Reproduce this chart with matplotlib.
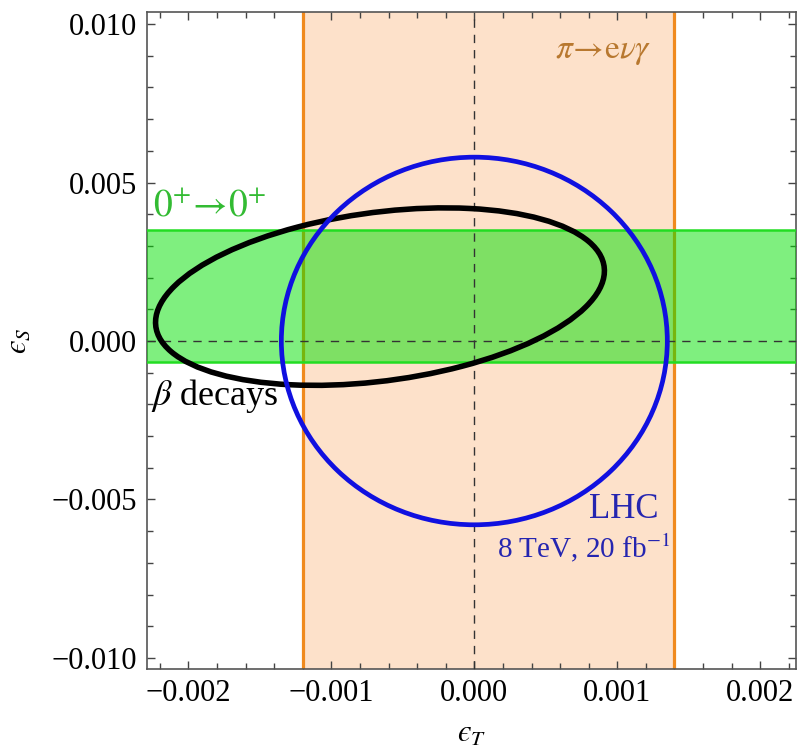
import numpy as np
import matplotlib
matplotlib.use("Agg")
import matplotlib.pyplot as plt
from matplotlib.patches import Ellipse
from matplotlib.ticker import MultipleLocator, FuncFormatter

plt.rcParams['font.family'] = ['Liberation Serif', 'DejaVu Serif']
plt.rcParams['mathtext.fontset'] = 'stix'

# --- data ---
x_limits = [-0.00229, 0.00225]
y_limits = [-0.01035, 0.01038]
pion_band = [-0.0012, 0.0014]          # pi -> e nu gamma allowed eps_T range
superallowed_band = [-0.00066, 0.0035]  # 0+ -> 0+ allowed eps_S range
lhc_center = [0.0, 0.0]
lhc_semi_axes = [0.00135, 0.0058]       # (eps_T, eps_S)
beta_center = [-0.00066, 0.0014]
beta_ax = 0.00157      # eps_T half-extent
beta_ay = 0.0028       # eps_S half-extent
beta_corr = 0.29       # correlation (cos of phase)
x_ticks = [-0.002, -0.001, 0.0, 0.001, 0.002]
y_ticks = [-0.010, -0.005, 0.0, 0.005, 0.010]

fig = plt.figure(figsize=(7.97, 7.52), dpi=100)
ax = fig.add_axes([0.1844, 0.1104, 0.8143, 0.8736])

# pion band
ax.axvspan(pion_band[0], pion_band[1], color='#FDE1CA', zorder=1, lw=0)
for xv in pion_band:
    ax.axvline(xv, color='#F08A1E', lw=2.3, zorder=2)

# superallowed band
ax.axhspan(superallowed_band[0], superallowed_band[1], color='#00E000', alpha=0.5, zorder=3, lw=0)
for yv in superallowed_band:
    ax.axhline(yv, color='#22DD22', lw=1.8, zorder=4)

# dashed axes
ax.axhline(0, color='#333333', lw=1.0, ls=(0, (6, 5)), zorder=5)
ax.axvline(0, color='#333333', lw=1.0, ls=(0, (6, 5)), zorder=5)

# LHC ellipse
ax.add_patch(Ellipse(lhc_center, 2 * lhc_semi_axes[0], 2 * lhc_semi_axes[1],
                     fill=False, ec='#1010E0', lw=3.4, zorder=7))

# beta decays ellipse (from half-extents and correlation)
S = np.array([[beta_ax**2, beta_ax * beta_ay * beta_corr],
              [beta_ax * beta_ay * beta_corr, beta_ay**2]])
vals, vecs = np.linalg.eigh(S)
major = vecs[:, 1]
angle = np.degrees(np.arctan2(major[1], major[0]))
ax.add_patch(Ellipse(beta_center, 2 * np.sqrt(vals[1]), 2 * np.sqrt(vals[0]),
                     angle=angle, fill=False, ec='black', lw=4.0, zorder=6))

fmt = FuncFormatter(lambda v, p: ('%.3f' % v).replace('-', '\u2212') if abs(v) > 1e-12 else '0.000')
ax.set_xlim(*x_limits)
ax.set_ylim(*y_limits)
ax.set_xticks(x_ticks)
ax.set_yticks(y_ticks)
ax.xaxis.set_major_formatter(fmt)
ax.yaxis.set_major_formatter(fmt)
ax.xaxis.set_minor_locator(MultipleLocator(0.0002))
ax.yaxis.set_minor_locator(MultipleLocator(0.001))
ax.tick_params(which='both', direction='in', top=True, right=True, color='#444444',
               labelsize=22, width=1.0)
ax.tick_params(which='major', length=6, pad=7)
ax.tick_params(which='minor', length=4)
for s in ax.spines.values():
    s.set_color('#555555')
    s.set_linewidth(1.2)

ax.set_xlabel('$\u03f5_T$', fontsize=22, labelpad=9)
ax.set_ylabel('$\u03f5_S$', fontsize=22, labelpad=14)

ax.text(0.00124, 0.00912, r'$\pi\!\rightarrow\!\mathrm{e}\nu\gamma$', color='#B8782F',
        fontsize=24, ha='right', va='center', zorder=9)
ax.text(-0.00225, 0.00426, r'$0^{+}\!\rightarrow\!0^{+}$', color='#33BB33',
        fontsize=27, ha='left', va='center', zorder=9)
ax.text(-0.00226, -0.00173, r'$\beta$ decays', color='black',
        fontsize=26, ha='left', va='center', zorder=9)
ax.text(0.00129, -0.00533, 'LHC', color='#2525B0',
        fontsize=25, ha='right', va='center', zorder=9)
ax.text(0.00137, -0.00653, r'8 TeV, 20 fb$^{-1}$', color='#2525B0',
        fontsize=21, ha='right', va='center', zorder=9)

fig.savefig('out.png', dpi=100)
